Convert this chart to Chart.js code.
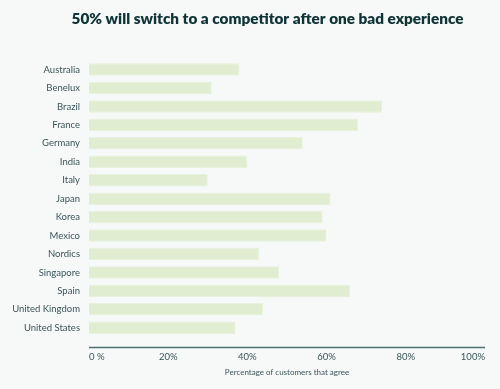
<!DOCTYPE html>
<html>
<head>
<meta charset="utf-8">
<script src="https://cdn.jsdelivr.net/npm/chart.js@4"></script>
<style>
  html, body { margin: 0; padding: 0; background: #f7f8f8; }
  #wrap { width: 500px; height: 389px; }
</style>
</head>
<body>
<div id="wrap"><canvas id="chartSwitch"></canvas></div>
<script>
'use strict';

const countries = ['Australia', 'Benelux', 'Brazil', 'France', 'Germany', 'India', 'Italy', 'Japan',
    'Korea', 'Mexico', 'Nordics', 'Singapore', 'Spain', 'United Kingdom', 'United States'];
const agreePct = [38, 31, 74, 68, 54, 40, 30, 61, 59, 60, 43, 48, 66, 44, 37];
const xTicks = [0, 20, 40, 60, 80, 100];

const TEXT = '#3b5558';
const FONT = "Lato, 'Open Sans', sans-serif";

// baseline under the bars, drawn a little below the plot area
const baseline = {
    id: 'baseline',
    afterLayout(chart) {
        // title sits a bit right of centre in the original
        if (chart.titleBlock) chart.titleBlock.left += 50;
    },
    afterDraw(chart) {
        const { ctx, chartArea } = chart;
        const y = chartArea.bottom + 10.5;
        ctx.save();
        ctx.strokeStyle = '#4e6f70';
        ctx.lineWidth = 1.5;
        ctx.beginPath();
        ctx.moveTo(chartArea.left, y);
        ctx.lineTo(chartArea.right, y);
        ctx.stroke();
        ctx.restore();
    }
};

new Chart(document.getElementById('chartSwitch'), {
    type: 'bar',
    data: {
        labels: countries,
        datasets: [{
            label: 'Agree',
            data: agreePct,
            backgroundColor: '#e0edd1',
            borderColor: '#e8f1de',
            borderWidth: 1,
            categoryPercentage: 1,
            barPercentage: 0.68,
        }]
    },
    plugins: [baseline],
    options: {
        indexAxis: 'y',
        responsive: true,
        maintainAspectRatio: false,
        animation: false,
        layout: { padding: { left: 0, right: 15, top: 0, bottom: 6 } },
        plugins: {
            legend: { display: false },
            tooltip: { enabled: false },
            title: {
                display: true,
                text: '50% will switch to a competitor after one bad experience',
                color: '#0f3438',
                font: { family: FONT, size: 15.3, weight: '800' },
                padding: { top: 10, bottom: 32 },
            },
        },
        scales: {
            x: {
                min: 0,
                max: 100,
                afterBuildTicks: (scale) => { scale.ticks = xTicks.map(v => ({ value: v })); },
                grid: { display: false, drawTicks: false },
                border: { display: false },
                ticks: {
                    align: 'inner',
                    padding: 14,
                    color: TEXT,
                    font: { family: FONT, size: 9.5 },
                    callback: v => v === 0 ? '0 %' : v + '%',
                },
                title: {
                    display: true,
                    text: 'Percentage of customers that agree',
                    color: TEXT,
                    font: { family: FONT, size: 8 },
                    padding: { top: -9, bottom: 6 },
                },
            },
            y: {
                afterFit: (scale) => { scale.width = 89; },
                grid: { display: false, drawTicks: false },
                border: { display: false },
                ticks: {
                    padding: 9,
                    color: TEXT,
                    font: { family: FONT, size: 9.5 },
                },
            },
        },
    },
});
</script>
</body>
</html>
